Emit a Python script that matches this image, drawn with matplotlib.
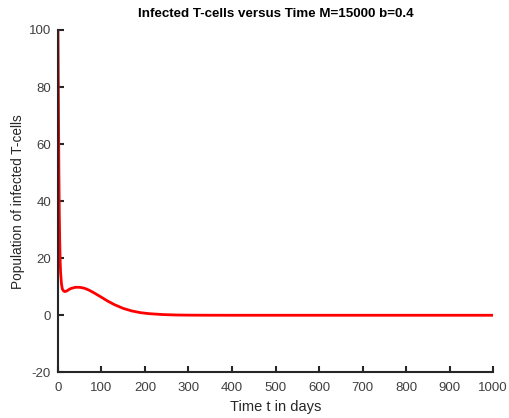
import numpy as np
import matplotlib
matplotlib.use("Agg")
import matplotlib.pyplot as plt

# values
t_days = [0, 1, 2, 3, 4, 5, 6, 8, 10, 13, 16, 20, 25, 30, 40, 50, 60, 70, 80, 90,
          100, 115, 130, 150, 170, 190, 210, 240, 270, 300, 350, 400, 500, 1000]
infected = [100, 75, 52, 36, 26, 19, 15, 11, 9.2, 8.5, 8.3, 8.5, 9.0, 9.4, 9.8, 9.8, 9.5, 8.9, 8.1, 7.2,
            6.3, 4.9, 3.7, 2.4, 1.5, 0.9, 0.55, 0.25, 0.1, 0.04, 0.01, 0, 0, 0]
x_ticks = list(range(0, 1001, 100))
y_ticks = list(range(-20, 101, 20))

plt.rcParams['font.family'] = ['Liberation Sans', 'DejaVu Sans']
plt.rcParams['axes.unicode_minus'] = False

fig = plt.figure(figsize=(5.1, 4.18), dpi=100)
ax = fig.add_axes([0.1137, 0.1093, 0.853, 0.819])

ax.plot(t_days, infected, color="red", linewidth=2)

ax.set_xlim(0, 1000)
ax.set_ylim(-20, 100)
ax.set_xticks(x_ticks)
ax.set_yticks(y_ticks)
for s in ["top", "right"]:
    ax.spines[s].set_visible(False)
for s in ["left", "bottom"]:
    ax.spines[s].set_color("#262626")
    ax.spines[s].set_linewidth(1.5)
ax.tick_params(direction="in", length=4, width=1.5, color="#262626",
               labelsize=9.5, labelcolor="#404040", pad=5)
ax.tick_params(axis="x", pad=7)

ax.set_title("Infected T-cells versus Time M=15000 b=0.4", fontsize=9.6, fontweight="bold", pad=9)
ax.set_xlabel("Time t in days", fontsize=10.5, color="#262626", labelpad=4)
ax.set_ylabel("Population of infected T-cells", fontsize=9.8, color="#262626", labelpad=3)

fig.savefig("out.png", dpi=100)
